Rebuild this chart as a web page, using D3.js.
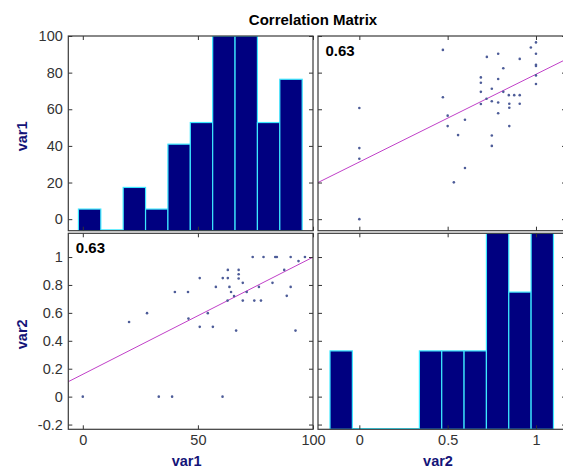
<!DOCTYPE html>
<meta charset="utf-8">
<style type="text/css">
    body {
        margin: 0;
        background: #fff;
    }
    svg {
        display: block;
    }
    text {
        font-family: "Liberation Sans", Arial, sans-serif;
    }
    .tick text {
        font-size: 14.5px;
        fill: #333;
    }
    .tick line {
        stroke: #333;
    }
</style>
<body>
<script src="https://cdn.jsdelivr.net/npm/d3@7"></script>
<script>
// samples
var var1 = [0, 20.1, 27.9, 33.0, 38.8, 40.0, 45.7, 45.9, 50.8, 50.8,
            54.3, 56.5, 57.8, 60.7, 60.8, 63.0, 63.0, 62.9, 63.7, 64.4,
            65.7, 66.6, 67.7, 67.7, 67.7, 69.5, 69.5, 71.2, 73.8, 74.5,
            76.5, 77.4, 78.5, 82.4, 83.6, 84.3, 87.5, 88.6, 90.3, 90.3,
            92.4, 93.7, 96.5];
var var2 = [0, 0.535, 0.598, 0, 0, 0.750, 0.750, 0.559, 0.849, 0.500,
            0.598, 0.500, 0.786, 0, 0.849, 0.908, 0.849, 0.688, 0.786, 0.750,
            0.720, 0.473, 0.908, 0.877, 0.846, 0.815, 0.688, 0.750, 1.0, 0.688,
            0.786, 0.688, 1.0, 0.815, 1.0, 1.0, 0.908, 0.722, 1.0, 0.786,
            0.473, 0.971, 1.0];

var names = ["var1", "var2"];
var corrLabel = "0.63";

// histogram counts (10 bins each) and the span the bars cover
var counts1 = [1, 0, 2, 1, 4, 5, 9, 9, 5, 7];
var counts2 = [4, 0, 0, 0, 4, 4, 4, 10, 7, 10];
var histSpan1 = [-1.9, 95.3];
var histSpan2 = [-0.166, 1.099];

// least squares lines [intercept, slope]
var fitVar2OnVar1 = [0.160, 0.00839];
var fitVar1OnVar2 = [31.2, 47.9];

// axis limits and ticks
var lim1 = [-6.3, 100],
    lim2 = [-0.234, 1.17];
var xTicks1 = [0, 50, 100],
    yTicks1 = [0, 20, 40, 60, 80, 100];
var xTicks2 = [0, 0.5, 1],
    yTicks2 = [-0.2, 0, 0.2, 0.4, 0.6, 0.8, 1];

var width = 563, height = 468;

var svg = d3.select("body").append("svg")
    .attr("width", width)
    .attr("height", height);

// panel boxes: columns and rows
var colX = [[68.3, 313], [318, 566]],
    rowY = [[36, 230.7], [233.3, 429.3]];

var data = [var1, var2],
    lims = [lim1, lim2],
    xTicks = [xTicks1, xTicks2],
    yTicks = [yTicks1, yTicks2],
    counts = [counts1, counts2],
    spans = [histSpan1, histSpan2],
    fits = [[null, fitVar1OnVar2], [fitVar2OnVar1, null]];

var xs = [0, 1].map(function(i) {
    return d3.scaleLinear().domain(lims[i]).range(colX[i]);
});
var ys = [0, 1].map(function(i) {
    return d3.scaleLinear().domain(lims[i]).range([rowY[i][1], rowY[i][0]]);
});

function fmt(v) { return String(v); }

svg.append("text")
    .attr("x", 313)
    .attr("y", 25)
    .attr("text-anchor", "middle")
    .style("font-size", "15px")
    .style("font-weight", "bold")
    .text("Correlation Matrix");

[0, 1].forEach(function(r) {
    [0, 1].forEach(function(c) {
        var x = xs[c], y = ys[r];
        var x0 = colX[c][0], x1 = colX[c][1],
            y0 = rowY[r][0], y1 = rowY[r][1];
        var id = "clip" + r + c;

        svg.append("clipPath").attr("id", id)
            .append("rect")
            .attr("x", x0).attr("y", y0)
            .attr("width", x1 - x0).attr("height", y1 - y0);

        var g = svg.append("g").attr("clip-path", "url(#" + id + ")");

        if (r === c) {
            // histogram on the diagonal
            var band = d3.scaleBand()
                .domain(d3.range(counts[c].length))
                .range([x(spans[c][0]), x(spans[c][1])])
                .paddingInner(0);
            var cy = d3.scaleLinear()
                .domain([0, d3.max(counts[c])])
                .range([y1, y0]);

            g.append("line")
                .attr("x1", band.range()[0]).attr("x2", band.range()[1])
                .attr("y1", y1 - 0.8).attr("y2", y1 - 0.8)
                .attr("stroke", "#3ce8ff")
                .attr("stroke-width", 1.2);

            g.selectAll("rect.bar")
                .data(counts[c])
                .enter().append("rect")
                .attr("class", "bar")
                .attr("x", function(d, i) { return band(i); })
                .attr("y", function(d) { return cy(d); })
                .attr("width", band.bandwidth())
                .attr("height", function(d) { return y1 - cy(d); })
                .attr("fill", "#000080")
                .attr("stroke", "#3ce8ff")
                .attr("stroke-width", 1.2);
        } else {
            // scatter with fitted line
            var fit = fits[r][c];
            g.append("line")
                .attr("x1", x(lims[c][0]))
                .attr("y1", y(fit[0] + fit[1] * lims[c][0]))
                .attr("x2", x(lims[c][1]))
                .attr("y2", y(fit[0] + fit[1] * lims[c][1]))
                .attr("stroke", "#c040c8")
                .attr("stroke-width", 1);

            g.selectAll("circle")
                .data(d3.range(data[c].length))
                .enter().append("circle")
                .attr("cx", function(i) { return x(data[c][i]); })
                .attr("cy", function(i) { return y(data[r][i]); })
                .attr("r", 1.3)
                .attr("fill", "#4d5c98");

            svg.append("text")
                .attr("x", x0 + 7.5)
                .attr("y", y0 + 19.5)
                .style("font-size", "15px")
                .style("font-weight", "bold")
                .text(corrLabel);
        }

        // inward ticks on all four sides
        var left = svg.append("g")
            .attr("transform", "translate(" + x0 + ",0)")
            .call(d3.axisLeft(y).tickValues(yTicks[r]).tickSize(-4).tickPadding(5.5)
                .tickFormat(c === 0 ? fmt : ""));
        var right = svg.append("g")
            .attr("transform", "translate(" + x1 + ",0)")
            .call(d3.axisRight(y).tickValues(yTicks[r]).tickSize(-4).tickFormat(""));
        var bottom = svg.append("g")
            .attr("transform", "translate(0," + y1 + ")")
            .call(d3.axisBottom(x).tickValues(xTicks[c]).tickSize(-4).tickPadding(5)
                .tickFormat(r === 1 ? fmt : ""));
        var top = svg.append("g")
            .attr("transform", "translate(0," + y0 + ")")
            .call(d3.axisTop(x).tickValues(xTicks[c]).tickSize(-4).tickFormat(""));
        [left, right, bottom, top].forEach(function(a) {
            a.select(".domain").remove();
            a.selectAll(".tick text").attr("font-family", null).attr("font-size", null);
        });

        svg.append("rect")
            .attr("x", x0).attr("y", y0)
            .attr("width", x1 - x0).attr("height", y1 - y0)
            .attr("fill", "none")
            .attr("stroke", "#3a3a3a")
            .attr("stroke-width", 1.2);
    });
});

// variable names along the outer edges
[0, 1].forEach(function(i) {
    svg.append("text")
        .attr("x", (colX[i][0] + colX[i][1]) / 2 - 4)
        .attr("y", 466)
        .attr("text-anchor", "middle")
        .attr("fill", "#141478")
        .style("font-size", "14.5px")
        .style("font-weight", "bold")
        .text(names[i]);

    svg.append("text")
        .attr("transform", "translate(26.5," + ((rowY[i][0] + rowY[i][1]) / 2 + 3) + ") rotate(-90)")
        .attr("text-anchor", "middle")
        .attr("fill", "#141478")
        .style("font-size", "14.5px")
        .style("font-weight", "bold")
        .text(names[i]);
});
</script>
</body>
